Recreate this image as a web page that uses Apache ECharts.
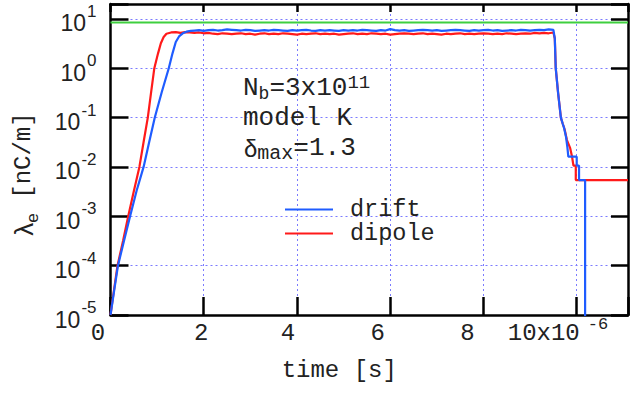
<!DOCTYPE html>
<html>
<head>
<meta charset="utf-8">
<script src="https://cdn.jsdelivr.net/npm/echarts@6/dist/echarts.min.js"></script>
<style>
html,body{margin:0;padding:0;background:#fff;}
#chart{width:634px;height:395px;}
</style>
</head>
<body>
<div id="chart"></div>
<script>
// ---------------- data (time in units of 1e-6 s, lambda_e in nC/m) ----------------
const xTickValues = [0, 2, 4, 6, 8, 10];
const yTickExponents = [-5, -4, -3, -2, -1, 0, 1];
const seriesNames = ['drift', 'dipole'];

// drift (blue)
const driftRiseT = [0, 0.08, 0.16, 0.29, 0.42, 0.56, 0.71, 0.83, 0.95, 1.10, 1.25, 1.33, 1.40, 1.47, 1.55, 1.63, 1.72];
const driftRiseV = [1.0e-5, 3.2e-5, 1.0e-4, 3.2e-4, 1.0e-3, 3.3e-3, 1.0e-2, 3.2e-2, 0.1, 0.33, 1.0, 2.0, 3.4, 4.4, 5.1, 5.5, 5.7];
const driftPlateauStart = 1.8;   // sampled every 0.1
const driftPlateauV = [
  5.8,5.9,5.7,5.9,6.0,5.8,5.9,6.1,6.0,5.9,
  5.8,6.0,5.9,5.7,5.8,5.9,5.8,6.0,5.9,5.8,
  5.7,5.9,5.8,5.9,6.0,5.8,5.7,5.9,5.8,5.9,
  5.8,5.7,5.9,5.8,5.9,5.8,6.0,5.9,5.8,5.7,
  5.9,5.8,6.2,5.9,5.8,5.9,5.7,5.8,5.9,6.0,
  5.9,5.8,5.9,5.7,5.8,5.9,6.0,5.9,5.8,5.7,
  5.9,5.8,5.9,6.0,5.8,5.9,5.7,5.8,5.9,5.8,
  6.0,5.9,5.8,5.9,6.0,5.9,6.1,6.0
];
const driftFallT = [9.53, 9.55, 9.60, 9.66, 9.70, 9.73, 9.77, 9.80, 9.82, 10.00, 10.00, 10.05, 10.05, 10.18, 10.18];
const driftFallV = [4.0, 1.0, 0.32, 0.1, 0.075, 0.061, 0.041, 0.025, 0.0161, 0.0161, 0.0106, 0.0106, 0.00542, 0.00542, 1e-9];

// dipole (red)
const dipoleRiseT = [0, 0.03, 0.15, 0.27, 0.38, 0.50, 0.62, 0.71, 0.80, 0.87, 0.94, 1.02, 1.08, 1.14, 1.20];
const dipoleRiseV = [1.0e-5, 1.6e-5, 1.0e-4, 3.2e-4, 1.0e-3, 3.2e-3, 1.0e-2, 3.2e-2, 0.1, 0.32, 1.0, 2.0, 3.2, 4.3, 5.0];
const dipolePlateauStart = 1.3;  // sampled every 0.1
const dipolePlateauV = [
  5.3,5.4,5.2,5.4,5.3,5.2,5.3,5.1,5.2,5.0,
  4.9,5.1,5.0,4.9,5.0,5.1,4.9,5.0,4.8,5.0,
  5.1,4.9,5.0,4.9,5.1,5.0,4.9,4.8,5.0,4.9,
  5.0,5.1,4.9,5.0,4.9,5.0,4.8,4.9,5.0,5.1,
  4.9,5.0,4.9,5.1,5.0,4.9,5.0,4.8,4.9,5.0,
  5.1,5.0,4.9,5.0,5.1,4.9,5.0,4.9,4.8,5.0,
  4.9,5.0,5.1,4.9,5.0,4.9,5.0,5.1,5.0,4.9,
  5.0,4.9,5.1,5.0,4.9,5.0,5.1,5.0,5.2,5.1,
  5.2,5.1,5.3
];
const dipoleFallT = [9.53, 9.55, 9.60, 9.66, 9.70, 9.74, 9.79, 9.86, 9.90, 9.93, 9.98, 9.98, 11.1];
const dipoleFallV = [4.0, 1.0, 0.32, 0.1, 0.075, 0.058, 0.035, 0.024, 0.0161, 0.0106, 0.0106, 0.00542, 0.00542];

// reference level (green)
const refLineT = [0, 11.1];
const refLineV = [8.4, 8.4];

const X_MIN = 0, X_MAX = 11.1, Y_MIN = 1e-5, Y_MAX = 20;
const PLATEAU_STEP = 0.1;

// ---------------- build ----------------
function zip(t, v) { return t.map((x, i) => [x, v[i]]); }
function plateau(t0, v) { return v.map((y, i) => [+(t0 + i * PLATEAU_STEP).toFixed(2), y]); }

const driftData = zip(driftRiseT, driftRiseV)
  .concat(plateau(driftPlateauStart, driftPlateauV))
  .concat(zip(driftFallT, driftFallV));
const dipoleData = zip(dipoleRiseT, dipoleRiseV)
  .concat(plateau(dipolePlateauStart, dipolePlateauV))
  .concat(zip(dipoleFallT, dipoleFallV));
const refData = zip(refLineT, refLineV);

const MONO = '"Liberation Mono", "DejaVu Sans Mono", monospace';
const SANS = '"Liberation Sans", "DejaVu Sans", sans-serif';
const TXT = '#222222';
const BLUE = '#1f5cff';
const RED = '#ff1a1a';
const GREEN = '#3fcf3f';
const GRIDC = '#7b7bff';

// per-label right padding (shifts label left like the reference)
const xLabelPad = {0: 25, 2: 5, 4: 18, 6: 25, 8: 32};
const xRich = {};
xTickValues.forEach(v => {
  xRich['m' + v] = {fontFamily: MONO, fontSize: 24, color: TXT, lineHeight: 34, verticalAlign: 'middle',
                    padding: v === 10 ? [0, 0, 0, 0] : [0, xLabelPad[v], 0, 0]};
});
xRich.s10 = {fontFamily: MONO, fontSize: 17, color: TXT, lineHeight: 16, verticalAlign: 'top', padding: [0, 0, 0, 8]};
xRich.g = {fontFamily: MONO, fontSize: 12.5, color: TXT, lineHeight: 10, verticalAlign: 'middle'};

const axisLineStyle = {color: '#000', width: 2.5};
const legendLineIcon = 'path://M0,0 L48,0 L48,2 L0,2 Z';

const chart = echarts.init(document.getElementById('chart'), null, {renderer: 'svg'});
const option = {
  animation: false,
  backgroundColor: '#ffffff',
  grid: {left: 110.5, right: 6, top: 4, bottom: 80, containLabel: false, outerBoundsMode: 'none'},
  legend: {
    data: seriesNames.map(n => ({name: n, icon: legendLineIcon})),
    orient: 'vertical',
    left: 285, top: 197.5,
    padding: 0,
    itemWidth: 48, itemHeight: 20, itemGap: 0,
    textStyle: {fontFamily: MONO, fontSize: 23.5, color: TXT, padding: [0, 0, 0, 12]},
    selectedMode: false
  },
  xAxis: [{
    type: 'value', min: X_MIN, max: X_MAX, interval: 2, position: 'bottom',
    axisLine: {show: true, onZero: false, lineStyle: axisLineStyle},
    axisTick: {show: true, inside: true, length: 18, lineStyle: axisLineStyle},
    axisLabel: {
      show: true, margin: 1, hideOverlap: false,
      formatter: function (v) {
        if (xTickValues.indexOf(v) < 0) return '';
        if (v === 10) return '{m10|10x10}{s10|-6}{g|     }';
        return '{m' + v + '|' + v + '}';
      },
      rich: xRich
    },
    splitLine: {show: true, lineStyle: {color: GRIDC, type: [2, 3], width: 1}},
    name: 'time [s]', nameLocation: 'middle', nameGap: 43,
    nameTextStyle: {fontFamily: MONO, fontSize: 24, color: TXT, lineHeight: 24, padding: [0, 60, 0, 0]}
  }, {
    type: 'value', min: X_MIN, max: X_MAX, interval: 2, position: 'top',
    axisLine: {show: true, onZero: false, lineStyle: axisLineStyle},
    axisTick: {show: true, inside: true, length: 8, lineStyle: axisLineStyle},
    axisLabel: {show: false},
    splitLine: {show: false}
  }],
  yAxis: [{
    type: 'log', logBase: 10, min: Y_MIN, max: Y_MAX, position: 'left',
    axisLine: {show: true, onZero: false, lineStyle: axisLineStyle},
    axisTick: {show: true, inside: true, length: 18, lineStyle: axisLineStyle},
    axisLabel: {
      show: true, margin: 14,
      formatter: function (v) {
        const e = Math.round(Math.log10(v));
        if (Math.abs(Math.log10(v) - e) > 1e-6 || yTickExponents.indexOf(e) < 0) return '';
        return '{z| }{b|10}{s|' + e + '}';
      },
      rich: {
        z: {fontFamily: SANS, fontSize: 1, color: TXT, lineHeight: 32, verticalAlign: 'middle'},
        b: {fontFamily: SANS, fontSize: 23, color: TXT, lineHeight: 24, verticalAlign: 'bottom'},
        s: {fontFamily: SANS, fontSize: 17, color: TXT, lineHeight: 18, verticalAlign: 'top', padding: [0, 0, 0, 1]}
      }
    },
    splitLine: {show: true, lineStyle: {color: GRIDC, type: [2, 3], width: 1}},
    name: '{l|λ}{e|e}{u| [nC/m]}', nameLocation: 'middle', nameGap: 70, nameRotate: 90,
    nameTextStyle: {
      padding: [0, 29, 0, 0],
      rich: {
        l: {fontFamily: SANS, fontSize: 26, color: TXT, lineHeight: 34, verticalAlign: 'middle'},
        e: {fontFamily: SANS, fontSize: 17, color: TXT, lineHeight: 12, verticalAlign: 'bottom'},
        u: {fontFamily: MONO, fontSize: 24, color: TXT, lineHeight: 34, verticalAlign: 'middle'}
      }
    }
  }, {
    type: 'log', logBase: 10, min: Y_MIN, max: Y_MAX, position: 'right',
    axisLine: {show: true, onZero: false, lineStyle: axisLineStyle},
    axisTick: {show: true, inside: true, length: 17, lineStyle: axisLineStyle},
    axisLabel: {show: false},
    splitLine: {show: false}
  }],
  graphic: [
    {type: 'text', x: 243, y: 88, z: 10, style: {
      text: '{m|N}{sb|b}{m|=3x10}{sp|11}', align: 'left', verticalAlign: 'middle',
      rich: {
        m: {fontFamily: MONO, fontSize: 26, fill: TXT, lineHeight: 30, verticalAlign: 'middle'},
        sb: {fontFamily: MONO, fontSize: 18, fill: TXT, lineHeight: 22, verticalAlign: 'bottom'},
        sp: {fontFamily: MONO, fontSize: 19, fill: TXT, lineHeight: 10, verticalAlign: 'top'}
      }}},
    {type: 'text', x: 243, y: 118, z: 10, style: {
      text: 'model K', align: 'left', verticalAlign: 'middle',
      font: '26px ' + MONO, fill: TXT}},
    {type: 'text', x: 244, y: 148, z: 10, style: {
      text: '{d|δ}{sb|max}{m|=1.3}', align: 'left', verticalAlign: 'middle',
      rich: {
        d: {fontFamily: SANS, fontSize: 24, fill: TXT, lineHeight: 30, verticalAlign: 'middle'},
        sb: {fontFamily: MONO, fontSize: 20, fill: TXT, lineHeight: 14, verticalAlign: 'bottom'},
        m: {fontFamily: MONO, fontSize: 26, fill: TXT, lineHeight: 30, verticalAlign: 'middle'}
      }}}
  ],
  series: [{
    name: 'ref', type: 'line', data: refData, showSymbol: false, symbol: 'none',
    lineStyle: {color: GREEN, width: 2}, itemStyle: {color: GREEN}, z: 2, silent: true
  }, {
    name: 'dipole', type: 'line', data: dipoleData, showSymbol: false, symbol: 'none', clip: true,
    lineStyle: {color: RED, width: 2.2}, itemStyle: {color: RED}, z: 3
  }, {
    name: 'drift', type: 'line', data: driftData, showSymbol: false, symbol: 'none', clip: true,
    lineStyle: {color: BLUE, width: 2.2}, itemStyle: {color: BLUE}, z: 4
  }]
};
chart.setOption(option);
</script>
</body>
</html>
